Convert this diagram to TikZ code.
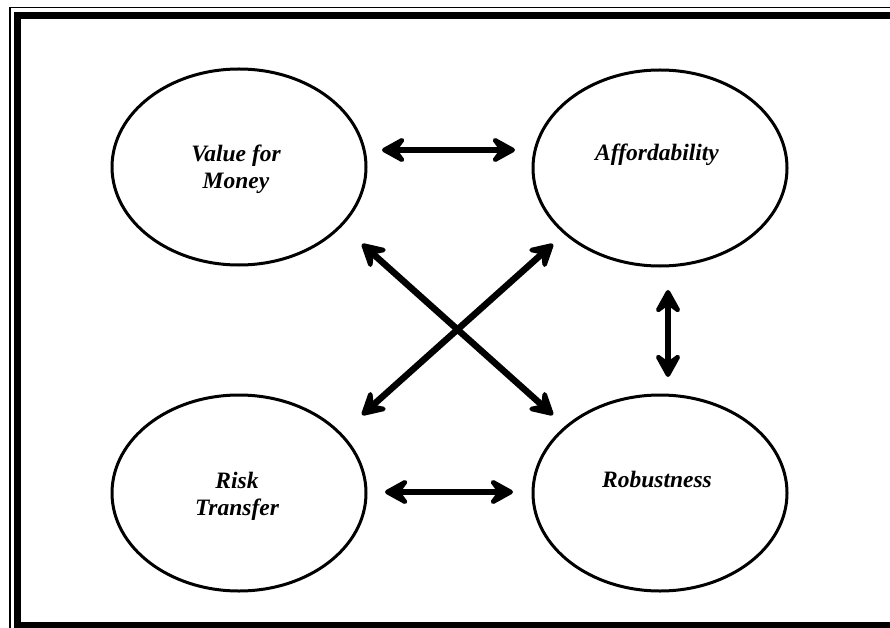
\documentclass[tikz,border=0pt]{standalone}
\usepackage{fontspec}
\setmainfont{Liberation Serif}
\usetikzlibrary{arrows.meta,shapes.geometric}
\begin{document}
\begin{tikzpicture}[x=1pt,y=-1pt,
  oval/.style={draw, line width=3pt, ellipse, minimum width=254pt, minimum height=196pt, inner sep=0pt},
  lbl/.style={font=\fontsize{23.5}{27}\selectfont\bfseries\itshape, align=center, inner sep=0pt, anchor=base},
  biarrow/.style={line width=6.5pt, {Stealth[length=30pt,width=33pt,inset=12pt,round]}-{Stealth[length=30pt,width=33pt,inset=12pt,round]}}]
\useasboundingbox (0,0) rectangle (890,628);
\clip (0,0) rectangle (890,628);
% frame
\draw[line width=1.7pt] (10.2,7.5) rectangle (905,645);
\draw[line width=6.6pt] (17.5,15.7) rectangle (897,625);
% ellipses
\node[oval] (vfm) at (239,167) {};
\node[oval] (aff) at (660,168) {};
\node[oval] (risk) at (239,493) {};
\node[oval] (rob) at (660,493) {};
% labels
\node[lbl] (vfmt) at (236,189) {Value for\\Money};
\node[lbl] (afft) at (657,161) {Affordability};
\node[lbl] (riskt) at (237,515) {Risk\\Transfer};
\node[lbl] (robt) at (657,487) {Robustness};
% connector ends
\coordinate (h1a) at (382,150);
\coordinate (h1b) at (515,150);
\coordinate (h2a) at (385,492);
\coordinate (h2b) at (513,492);
\coordinate (v1a) at (668,290);
\coordinate (v1b) at (668,377);
\coordinate (x1a) at (362,244);
\coordinate (x1b) at (553,415);
\coordinate (x2a) at (553,244);
\coordinate (x2b) at (362,415);
% connectors
\draw[biarrow] (h1a) -- (h1b);
\draw[biarrow] (h2a) -- (h2b);
\draw[biarrow] (v1a) -- (v1b);
\draw[biarrow] (x1a) -- (x1b);
\draw[biarrow] (x2a) -- (x2b);
\end{tikzpicture}
\end{document}
